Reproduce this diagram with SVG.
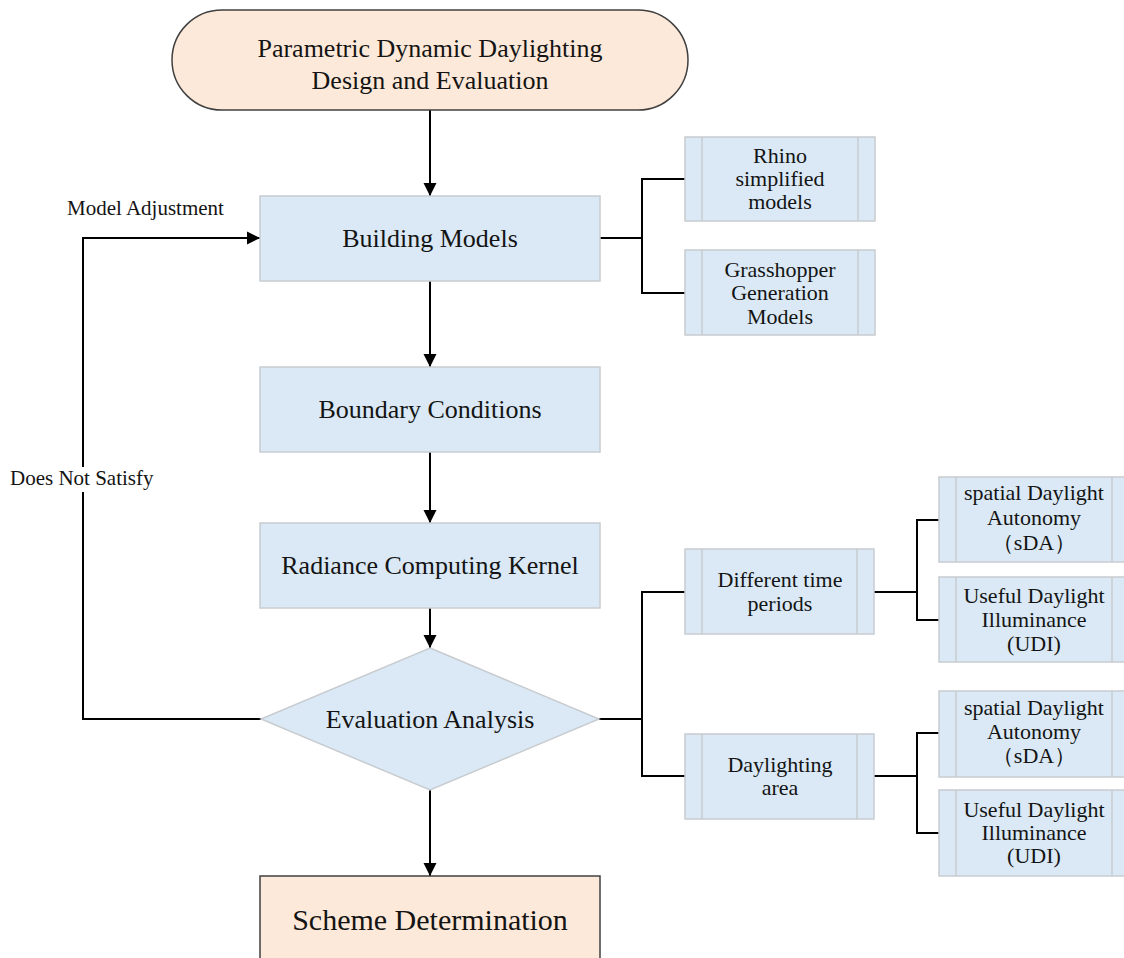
<svg xmlns="http://www.w3.org/2000/svg" width="1124" height="958" viewBox="0 0 1124 958">
<style>
text{font-family:"Liberation Serif","Times New Roman",serif;fill:#141414;text-anchor:middle}
.big{font-size:26px}
.sm{font-size:22px}
.lbl{font-size:21px;text-anchor:start}
.blue{fill:#dae9f5;stroke:#c8ccd0;stroke-width:1.5}
.peach{fill:#fde9d9;stroke:#404040;stroke-width:1.5}
.inner{stroke:#c8ccd0;stroke-width:1.5;fill:none}
.con{fill:none;stroke:#000;stroke-width:2}
</style>
<defs>
<marker id="ah" markerUnits="userSpaceOnUse" markerWidth="14" markerHeight="14" refX="13" refY="6.5" orient="auto" viewBox="0 0 14 13">
<path d="M0,0 L13,6.5 L0,13 z" fill="#000"/>
</marker>
</defs>
<rect width="1124" height="958" fill="#fff"/>

<g id="connectors">
<path class="con" d="M430,110 V196" marker-end="url(#ah)"/>
<path class="con" d="M430,281 V367" marker-end="url(#ah)"/>
<path class="con" d="M430,452 V523" marker-end="url(#ah)"/>
<path class="con" d="M430,608 V648" marker-end="url(#ah)"/>
<path class="con" d="M430,790 V876" marker-end="url(#ah)"/>
<path class="con" d="M261,719 H83 V492 M83,467 V238 H260" marker-end="url(#ah)"/>
<path class="con" d="M600,238 H642 M685,179 H642 V293 H685"/>
<path class="con" d="M599,719 H642 M685,592 H642 V776 H685"/>
<path class="con" d="M874,592 H917 M939,520 H917 V620 H939"/>
<path class="con" d="M874,776 H917 M939,733 H917 V833 H939"/>
</g>

<g id="labels">
<text class="lbl" x="67" y="215">Model Adjustment</text>
<text class="lbl" x="10" y="485">Does Not Satisfy</text>
</g>

<g id="start">
<rect class="peach" x="172" y="10" width="516" height="100" rx="50"/>
<text class="big" x="430" y="57">Parametric Dynamic Daylighting</text>
<text class="big" x="430" y="89">Design and Evaluation</text>
</g>

<g id="building-models">
<rect class="blue" x="260" y="196" width="340" height="85"/>
<text class="big" x="430" y="247">Building Models</text>
</g>

<g id="boundary-conditions">
<rect class="blue" x="260" y="367" width="340" height="85"/>
<text class="big" x="430" y="418">Boundary Conditions</text>
</g>

<g id="radiance">
<rect class="blue" x="260" y="523" width="340" height="85"/>
<text class="big" x="430" y="574">Radiance Computing Kernel</text>
</g>

<g id="evaluation">
<polygon class="blue" points="430,648 599,719 430,790 261,719"/>
<text class="big" x="430" y="728">Evaluation Analysis</text>
</g>

<g id="scheme">
<rect class="peach" x="260" y="876" width="340" height="100"/>
<text x="430" y="930" style="font-size:30px">Scheme Determination</text>
</g>

<g id="rhino">
<rect class="blue" x="685" y="137" width="190" height="84"/>
<path class="inner" d="M702,137 V221 M858,137 V221"/>
<text class="sm" x="780" y="163">Rhino</text>
<text class="sm" x="780" y="186">simplified</text>
<text class="sm" x="780" y="209">models</text>
</g>

<g id="grasshopper">
<rect class="blue" x="685" y="250" width="190" height="85"/>
<path class="inner" d="M702,250 V335 M858,250 V335"/>
<text class="sm" x="780" y="277">Grasshopper</text>
<text class="sm" x="780" y="300">Generation</text>
<text class="sm" x="780" y="324">Models</text>
</g>

<g id="time-periods">
<rect class="blue" x="685" y="549" width="189" height="85"/>
<path class="inner" d="M702,549 V634 M857,549 V634"/>
<text class="sm" x="780" y="587">Different time</text>
<text class="sm" x="780" y="611">periods</text>
</g>

<g id="daylighting-area">
<rect class="blue" x="685" y="734" width="189" height="85"/>
<path class="inner" d="M702,734 V819 M857,734 V819"/>
<text class="sm" x="780" y="772">Daylighting</text>
<text class="sm" x="780" y="795">area</text>
</g>

<g id="sda-1">
<rect class="blue" x="939" y="477" width="190" height="85"/>
<path class="inner" d="M956,477 V562 M1112,477 V562"/>
<text class="sm" x="1034" y="500">spatial Daylight</text>
<text class="sm" x="1034" y="525">Autonomy</text>
<text class="sm" x="1034" y="550">（sDA）</text>
</g>

<g id="udi-1">
<rect class="blue" x="939" y="577" width="190" height="85"/>
<path class="inner" d="M956,577 V662 M1112,577 V662"/>
<text class="sm" x="1034" y="603">Useful Daylight</text>
<text class="sm" x="1034" y="627">Illuminance</text>
<text class="sm" x="1034" y="651">(UDI)</text>
</g>

<g id="sda-2">
<rect class="blue" x="939" y="691" width="190" height="86"/>
<path class="inner" d="M956,691 V777 M1112,691 V777"/>
<text class="sm" x="1034" y="715">spatial Daylight</text>
<text class="sm" x="1034" y="739">Autonomy</text>
<text class="sm" x="1034" y="763">（sDA）</text>
</g>

<g id="udi-2">
<rect class="blue" x="939" y="790" width="190" height="86"/>
<path class="inner" d="M956,790 V876 M1112,790 V876"/>
<text class="sm" x="1034" y="817">Useful Daylight</text>
<text class="sm" x="1034" y="840">Illuminance</text>
<text class="sm" x="1034" y="863">(UDI)</text>
</g>
</svg>
